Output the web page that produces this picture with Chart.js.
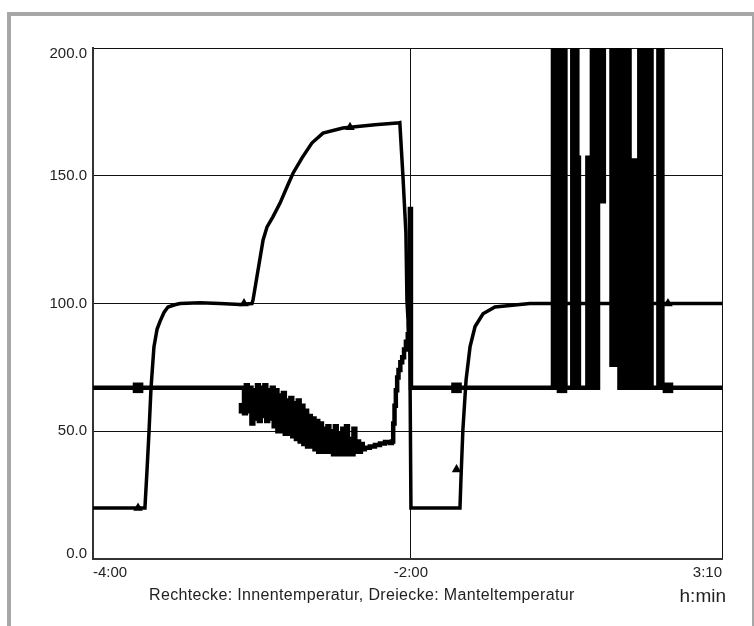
<!DOCTYPE html>
<html>
<head>
<meta charset="utf-8">
<script src="https://cdn.jsdelivr.net/npm/chart.js@4.4.1/dist/chart.umd.min.js"></script>
<style>
  html, body { margin: 0; padding: 0; background: #fff; width: 754px; height: 626px; overflow: hidden; }
  #frame { position: absolute; left: 7px; top: 12px; width: 749px; height: 620px; border: 4px solid #a7a7a7; box-sizing: border-box; background: #fff; }
  #wrap { position: absolute; left: 0; top: 0; width: 754px; height: 626px; }
  .txt { position: absolute; font-family: "Liberation Sans", Arial, sans-serif; color: #222; line-height: 1; white-space: pre; }
  #caption { left: 149px; top: 587px; font-size: 16px; letter-spacing: 0.34px; }
  #unit { right: 28px; top: 586px; font-size: 19px; }
</style>
</head>
<body>
<div id="frame"></div>
<div id="wrap"><canvas id="c" width="754" height="626"></canvas></div>
<div class="txt" id="caption">Rechtecke: Innentemperatur, Dreiecke: Manteltemperatur</div>
<div class="txt" id="unit">h:min</div>
<script>
// x axis positions (minutes from the left edge) and their labels
const xTickPositions = [0, 120, 237.4];
const xTickLabels = ['-4:00', '-2:00', '3:10'];
const yMin = 0, yMax = 200, yStep = 50;

// Innentemperatur (Rechtecke) [time, value]
const innen = [
  [0,67],[56.6,67],[57.0,57],[57.7,68],[58.4,58],[59.1,67],[59.8,53],[60.5,66],[61.2,55],[61.9,68],
  [62.6,54],[63.3,67],[64.0,56],[64.7,68],[65.4,54],[66.1,66],[66.8,55],[67.5,67],[68.2,52],[68.9,66],
  [69.6,50],[70.3,64],[71.0,50],[71.7,65],[72.4,49],[73.1,62],[73.8,49],[74.5,63],[75.2,48],[75.9,61],
  [76.6,47],[77.3,62],[78.0,46],[78.7,60],[79.4,45],[80.1,58],[80.8,44],[81.5,56],[82.2,44],[82.9,55],
  [83.6,43],[84.3,54],[85.0,42],[85.7,53],[86.4,42],[87.1,51],[87.8,42],[88.5,52],[89.2,42],[89.9,50],
  [90.6,41],[91.3,52],[92.0,41],[92.7,49],[93.4,41],[94.1,51],[94.8,41],[95.5,52],[96.2,41],[96.9,47],
  [97.6,41],[98.3,51],[99.0,42],[99.7,46],[100.4,42],[101.1,45],[101.8,43],[102.6,43.5],[104.5,44],
  [106.4,44.6],[108.3,45.2],[110.2,45.8],[112.1,45.4],[112.8,46],[113.3,53],[113.8,60],[114.3,66],
  [114.8,71],[115.3,74],[116.0,77],[116.7,79],[117.4,82],[118.1,85],[118.8,88],[119.2,92],[119.4,110],
  [119.6,137],[120.0,67],
  [173.2,67],[173.6,250],[174.5,250],[174.7,67],[175.8,67],[176.0,250],[176.6,250],[176.8,67],
  [177.4,67],[177.5,250],[178.1,250],[178.3,67],[180.8,67],[180.9,250],[181.5,250],[181.7,67],
  [181.9,67],[182.1,250],[182.6,250],[182.8,157],[183.2,157],[183.4,67],[186.4,67],[186.6,157],
  [187.2,157],[187.4,67],[187.5,67],[187.7,157],[188.3,250],[188.7,67],[189.1,250],[189.4,67],
  [189.8,250],[190.2,67],[190.6,250],[191.1,140],[191.7,250],[192.3,140],[192.8,250],[195.5,250],
  [195.7,76],[196.2,250],[196.8,76],[197.4,250],[197.9,76],[198.3,250],[198.7,67],[199.1,250],
  [199.4,67],[199.8,250],[200.2,67],[200.6,250],[201.0,67],[201.3,250],[201.7,67],[202.1,250],
  [202.5,67],[203.4,67],[203.6,156],[204.0,122],[204.4,156],[204.9,67],[206.0,67],[206.2,250],
  [206.8,250],[207.0,67],[207.4,67],[207.5,250],[208.3,250],[208.5,67],[209.4,67],[209.6,250],
  [210.6,250],[210.8,67],[213.2,67],[213.4,250],[214.7,250],[214.9,67],[237.4,67]
];

// Manteltemperatur (Dreiecke) [time, value]
const mantel = [
  [0,20],[19.6,20],[20.4,35],[21.1,49],[21.9,67],[23.0,83],[24.2,90],[25.3,93],[26.8,96.5],[28.3,98.6],
  [30.9,99.5],[32.8,100],[40.4,100.3],[47.9,100],[55.5,99.6],[60.0,100],[60.4,101.4],[64.2,124.9],
  [65.7,130],[67.9,133.9],[70.6,139.3],[73.2,145.6],[75.5,151],[78.9,157],[82.6,162.8],[86.8,166.7],
  [94.3,168.7],[106.4,170],[114.7,170.6],[115.8,170.8],[117.0,149.5],[118.1,127.6],[118.5,101],
  [119.2,88],[119.6,80],[120.0,20],[138.5,20],[138.9,32],[139.6,50.5],[140.8,70],[142.3,83],
  [144.2,91],[147.2,96],[151.7,98.6],[164.9,100],[237.4,100]
];

// marker points
const innenMarkers = [[17.0,67],[57.0,59],[97.0,45],[137.2,67],[177.0,67],[217.0,67]];
const mantelMarkers = [[17.0,20],[57.0,100],[97.0,169],[137.2,35],[177.0,100],[217.0,100]];

const toXY = arr => arr.map(p => ({x: p[0], y: p[1]}));
const font = {family: '"Liberation Sans", Arial, sans-serif', size: 15};

new Chart(document.getElementById('c'), {
  type: 'line',
  data: {
    datasets: [
      {label: 'Innentemperatur', data: toXY(innen), borderColor: '#000', borderWidth: 4.5, pointRadius: 0, stepped: true, fill: false},
      {label: 'Manteltemperatur', data: toXY(mantel), borderColor: '#000', borderWidth: 3.5, pointRadius: 0, tension: 0, fill: false},
      {label: 'Rechtecke', data: toXY(innenMarkers), showLine: false, pointStyle: 'rect', pointRadius: 7.5, backgroundColor: '#000', borderColor: '#000', borderWidth: 0},
      {label: 'Dreiecke', data: toXY(mantelMarkers), showLine: false, pointStyle: 'triangle', pointRadius: 5.5, backgroundColor: '#000', borderColor: '#000', borderWidth: 0}
    ]
  },
  options: {
    responsive: false,
    animation: false,
    events: [],
    layout: {padding: {left: 0, right: 32, top: 48, bottom: 27}},
    plugins: {legend: {display: false}, tooltip: {enabled: false}},
    scales: {
      x: {
        type: 'linear', min: xTickPositions[0], max: xTickPositions[xTickPositions.length - 1],
        afterBuildTicks: s => { s.ticks = xTickPositions.map(v => ({value: v})); },
        afterFit: s => { s.height = 40; },
        grid: {color: '#111', lineWidth: 1, drawTicks: false},
        border: {color: '#333', width: 2},
        ticks: {align: 'inner', padding: 5, autoSkip: false, maxRotation: 0, color: '#222', font: font,
                callback: (v, i) => xTickLabels[i]}
      },
      y: {
        min: yMin, max: yMax,
        afterFit: s => { s.width = 93; },
        grid: {color: '#111', lineWidth: 1, drawTicks: false},
        border: {color: '#333', width: 2},
        ticks: {stepSize: yStep, padding: 6, color: '#222', font: Object.assign({lineHeight: 11/15}, font),
                callback: v => {
                  const t = Number(v).toFixed(1);
                  if (v === yMax) return ['', t];
                  if (v === yMin) return [t, ''];
                  return t;
                }}
      }
    }
  }
});
</script>
</body>
</html>
